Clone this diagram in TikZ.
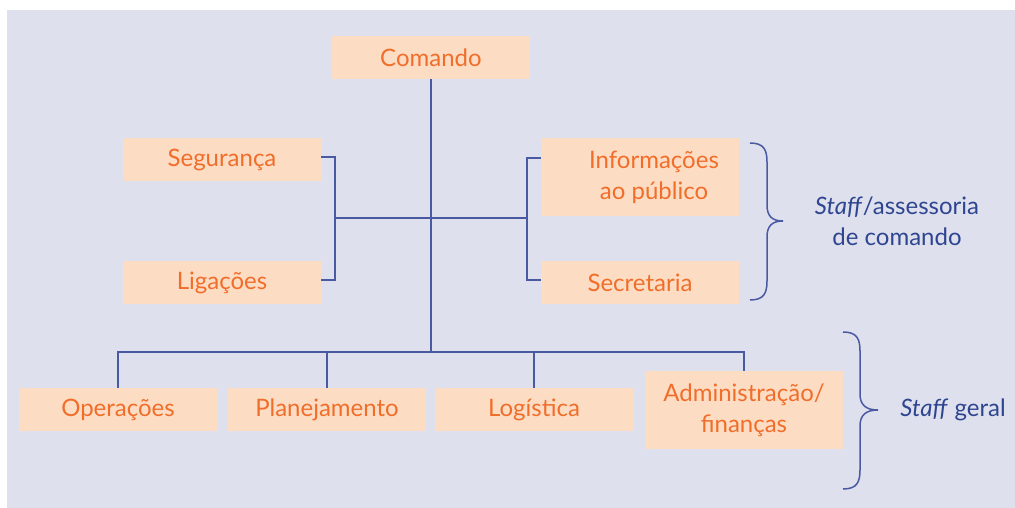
\documentclass[tikz,border=0pt]{standalone}
\usepackage{fontspec}
\setmainfont{Lato}
\definecolor{bgc}{HTML}{DFE0EE}
\definecolor{boxc}{HTML}{FDDCC4}
\definecolor{txtc}{HTML}{F06E2A}
\definecolor{linec}{HTML}{4A5AA2}
\definecolor{bluet}{HTML}{2E4590}
\begin{document}
\begin{tikzpicture}[x=1pt,y=-1pt,
  orgbox/.style={fill=boxc,inner sep=0pt,minimum width=198pt,minimum height=43pt,text=txtc,font=\fontsize{24}{31}\selectfont,align=center},
  orgtext/.style={inner sep=0pt,text=txtc,font=\fontsize{24}{31}\selectfont,align=center},
  conn/.style={draw=linec,line width=2.4pt},
  bracec/.style={draw=linec,line width=1.5pt},
  sidetext/.style={inner sep=0pt,text=bluet,font=\fontsize{24}{31}\selectfont,align=center}]
\useasboundingbox (0,0) rectangle (1015,508);
\fill[bgc] (7,10) rectangle (1015,508);
% nodes
\node[orgbox] (cmd) at (431,57.5) {Comando};
\node[orgbox] (seg) at (222,159.5) {Segurança};
\node[orgbox] (lig) at (222,282.5) {Ligações};
\node[orgbox,minimum height=78pt] (info) at (640,177) {};
\node[orgtext] (infot) at (654,177) {Informações\\ao público};
\node[orgbox] (sec) at (640,282.5) {Secretaria};
\node[orgbox] (ope) at (118,409.5) {Operações};
\node[orgbox] (pla) at (327,409.5) {Planejamento};
\node[orgbox] (log) at (534,409.5) {Logística};
\node[orgbox,minimum height=78pt] (adm) at (744,410) {Administração/\\finanças};
% junction coordinates
\coordinate (jbot) at (431,352);
\coordinate (lx) at (335,218);
\coordinate (rx) at (527,218);
% connectors
\draw[conn] (cmd.south) -- (jbot);
\draw[conn] (lx) -- (rx);
\draw[conn] (seg.east |- 0,157) -| (lx) |- (lig.east |- 0,280);
\draw[conn] (info.west |- 0,158) -| (rx) |- (sec.west |- 0,280);
\draw[conn] (ope.north) |- (jbot) -| (adm.north);
\draw[conn] (pla.north) -- (pla.north |- jbot);
\draw[conn] (log.north) -- (log.north |- jbot);
% braces
\coordinate (b1) at (750,143);
\coordinate (b1e) at (750,300);
\coordinate (b1t) at (783,221);
\draw[bracec] (b1) .. controls (764,143) and (767,150) .. (767,162)
  -- (767,205) .. controls (767,216) and (772,221) .. (b1t)
  .. controls (772,221) and (767,226) .. (767,237)
  -- (767,281) .. controls (767,293) and (764,300) .. (b1e);
\coordinate (b2) at (843,332);
\coordinate (b2e) at (843,489);
\coordinate (b2t) at (878,410);
\draw[bracec] (b2) .. controls (857,332) and (860,339) .. (860,351)
  -- (860,394) .. controls (860,405) and (866,410) .. (b2t)
  .. controls (866,410) and (860,415) .. (860,426)
  -- (860,470) .. controls (860,482) and (857,489) .. (b2e);
% side texts
\node[sidetext] (sa) at (897,221) {\textit{Staff}/assessoria\\de comando};
\node[sidetext] (sg) at (953,410) {\textit{Staff} geral};
\end{tikzpicture}
\end{document}
